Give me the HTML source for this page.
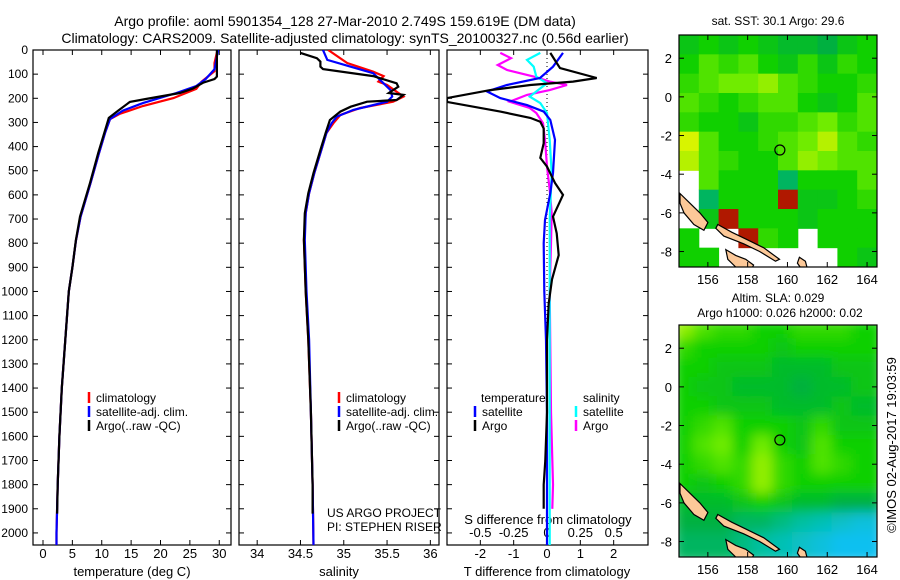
<!DOCTYPE html>
<html><head><meta charset="utf-8"><style>
body{margin:0;background:#fff;}
svg{display:block;font-family:"Liberation Sans",sans-serif;}
</style></head><body>
<svg id="c" width="900" height="580" viewBox="0 0 900 580">
<defs>
<clipPath id="cp1"><rect x="33" y="50" width="198" height="495"/></clipPath>
<clipPath id="cp2"><rect x="239" y="50" width="200" height="495"/></clipPath>
<clipPath id="cp3"><rect x="447" y="50" width="201" height="495"/></clipPath>
<clipPath id="cm1"><rect x="679" y="35" width="198" height="232"/></clipPath>
<clipPath id="cm2"><rect x="679" y="325" width="198" height="232"/></clipPath>
<filter id="blur"><feGaussianBlur stdDeviation="6"/></filter>
</defs>
<text x="345" y="26" font-size="14" text-anchor="middle">Argo profile: aoml 5901354_128 27-Mar-2010 2.749S 159.619E (DM data)</text>
<text x="345" y="43" font-size="14" text-anchor="middle">Climatology: CARS2009. Satellite-adjusted climatology: synTS_20100327.nc (0.56d earlier)</text>
<g id="g"></g>
</svg>
<script>
// ---------- data ----------
const tempArgoDepth=[0,12,60,110,120,135,160,178,203,215,251,281,338,427,551,690,787,900,1000,1200,1400,1600,1800,1920];
const tempArgo=[29.6,29.6,29.6,29.6,29.2,27.3,25.5,23.3,17.5,14.8,12.8,11.2,10.5,9.4,8.0,6.3,5.6,5.0,4.4,3.8,3.2,2.8,2.5,2.4];
const tempClimDepth=[0,54,88,131,161,199,232,265,286,340,430,550,690,790,900,1000,1200,1400,1600,1800,2000,2050];
const tempClim=[29.7,29.2,29.2,27,26.1,22.2,17,13,11.4,10.6,9.5,8.1,6.4,5.6,5.0,4.4,3.8,3.2,2.8,2.5,2.3,2.3];
const tempSatDepth=[0,54,80,120,149,178,220,251,286,340,430,550,690,790,900,1000,1200,1400,1600,1800,2000,2050];
const tempSat=[29.8,29.4,29.2,27.7,26.1,22.7,17,13.6,11.4,10.6,9.5,8.1,6.4,5.6,5.0,4.4,3.8,3.2,2.8,2.5,2.3,2.3];
const salArgoDepth=[12,34,48,69,79,108,138,152,178,186,207,214,235,255,290,344,414,510,593,676,787,1000,1200,1500,1800,1920];
const salArgo=[34.50,34.69,34.73,34.73,34.76,35.34,35.61,35.63,35.52,35.69,35.61,35.27,35.08,34.96,34.84,34.79,34.73,34.65,34.59,34.55,34.54,34.56,34.59,34.62,34.64,34.64];
const salClimDepth=[0,54,90,108,131,145,193,214,240,269,303,344,414,510,593,676,787,1000,1200,1500,1800,2050];
const salClim=[34.82,35.04,35.34,35.46,35.40,35.50,35.69,35.57,35.19,34.96,34.88,34.80,34.74,34.66,34.60,34.56,34.54,34.56,34.59,34.62,34.64,34.65];
const salSatDepth=[0,41,69,96,124,166,193,214,248,276,303,344,414,510,593,676,787,1000,1200,1500,1800,2050];
const salSat=[34.76,34.81,35.08,35.34,35.42,35.54,35.56,35.50,35.11,34.92,34.86,34.80,34.74,34.66,34.60,34.56,34.55,34.57,34.60,34.62,34.64,34.65];
const dTArgoDepth=[12,54,75,116,131,145,166,199,215,255,281,297,325,386,447,483,551,600,690,759,850,950,1050,1200,1500,1700,1800,1900];
const dTArgo=[0.1,0.29,0.39,1.49,0.78,-0.5,-1.7,-3.0,-3.0,-1.4,-0.5,-0.2,-0.1,-0.1,-0.2,0,0.24,0.48,0.18,0.29,0.35,0.15,0.05,0.0,0.0,-0.05,-0.1,-0.1];
const dTSatDepth=[12,69,116,145,172,199,228,255,290,372,510,593,704,800,1000,1200,1500,2050];
const dTSat=[0.48,0.18,-0.21,-1.2,-1.8,-1.4,-0.6,-0.1,0.1,0.24,0.18,0.1,-0.06,-0.1,-0.08,-0.03,0,0];
const dSArgoDepth=[12,34,62,83,110,131,145,166,186,214,240,261,303,372,483,579,676,800,1000,1500,1800,1900];
const dSArgo=[-0.35,-0.27,-0.37,-0.3,-0.1,0.02,0.15,0.02,-0.15,-0.28,-0.13,-0.08,-0.03,-0.015,0,0.02,0.035,0.03,0.02,0.03,0.045,0.04];
const dSSatDepth=[12,41,69,110,138,159,193,220,261,372,510,700,1000,1500,2050];
const dSSat=[-0.05,-0.15,-0.1,-0.08,0,-0.05,-0.13,-0.05,0,0.02,0.035,0.02,0.02,0.02,0.02];
const depthTicks=[0,100,200,300,400,500,600,700,800,900,1000,1100,1200,1300,1400,1500,1600,1700,1800,1900,2000];
const tempTicks=[0,5,10,15,20,25,30];
const salTicks=[34,34.5,35,35.5,36];
const dTTicks=[-2,-1,0,1,2];
const dSTicks=[-0.5,-0.25,0,0.25,0.5];
const dSTickLabels=["-0.5","-0.25","0","0.25","0.5"];
const lonTicks=[156,158,160,162,164];
const latTicks=[2,0,-2,-4,-6,-8];
const sstGrid=[
[.45,.5,.45,.5,.45,.4,.4,.35,.45,.5],
[.5,.6,.55,.6,.5,.45,.55,.45,.55,.5],
[.55,.6,.65,.65,.7,.6,.55,.5,.5,.55],
[.6,.55,.5,.55,.6,.6,.5,.45,.5,.6],
[.55,.5,.5,.45,.55,.55,.6,.65,.55,.6],
[.8,.6,.5,.5,.55,.6,.65,.75,.6,.55],
[.75,.6,.55,.5,.5,.6,.7,.65,.6,.6],
[null,.6,.5,.5,.5,.3,.5,.5,.5,.6],
[null,.3,.5,.5,.5,1.1,.45,.45,.5,.55],
[null,.45,1.1,.5,.5,.5,.45,.5,.5,.5],
[.5,null,null,1.1,.55,.5,null,.5,.5,.5],
[.5,.5,null,null,null,null,null,null,.5,.45]];
const slaGrid=[
[.7,.6,.55,.55,.5,.5,.55,.55,.55,.5],
[.55,.5,.5,.5,.5,.45,.5,.5,.5,.5],
[.5,.5,.45,.45,.45,.4,.4,.4,.45,.45],
[.5,.45,.45,.4,.4,.4,.35,.4,.4,.45],
[.5,.5,.45,.45,.45,.4,.4,.4,.45,.4],
[.5,.55,.6,.5,.5,.5,.45,.55,.45,.45],
[.5,.6,.65,.5,.65,.5,.45,.6,.5,.5],
[.5,.55,.6,.55,.7,.55,.5,.6,.55,.5],
[.5,.45,.5,.55,.7,.55,.5,.5,.5,.5],
[.4,.4,.4,.45,.5,.45,.4,.4,.35,.35],
[.35,.35,.35,.3,.3,.25,.2,.15,.1,.05],
[.3,.3,.3,.25,.2,.15,.1,.05,0,0]];
const argoLon=159.619, argoLat=-2.749;
// ---------- helpers ----------
const NS='http://www.w3.org/2000/svg';
const G=document.getElementById('g');
function mk(tag,attrs,parent){const e=document.createElementNS(NS,tag);for(const k in attrs)e.setAttribute(k,attrs[k]);(parent||G).appendChild(e);return e;}
function lin(d0,d1,r0,r1){return v=>r0+(v-d0)*(r1-r0)/(d1-d0);}
const yD=lin(0,2050,50,545);
const xT=lin(-1.7,32.0,33,231);
const xS=lin(33.79,36.1,239,439);
const xdT=lin(-3,3,447,647);
const xdS=lin(-0.75,0.75,447,647);
function txt(x,y,s,size,anchor,name){const t=mk('text',{x:x,y:y,'font-size':size,'text-anchor':anchor||'start'});t.textContent=s;return t;}
function panel(x0,x1,name){const r=mk('rect',{x:x0,y:50,width:x1-x0,height:495,fill:'none',stroke:'#000','stroke-width':1.2});
 depthTicks.forEach(d=>{mk('line',{x1:x0,x2:x0+5,y1:yD(d),y2:yD(d),stroke:'#000'});mk('line',{x1:x1-5,x2:x1,y1:yD(d),y2:yD(d),stroke:'#000'});});}
function xticks(vals,sc,labels,ly,name){vals.forEach((v,i)=>{const x=sc(v);mk('line',{x1:x,x2:x,y1:50,y2:55,stroke:'#000'});mk('line',{x1:x,x2:x,y1:540,y2:545,stroke:'#000'});txt(x,ly,labels?labels[i]:String(v),13,'middle',name);});}
function series(ds,vs,sc,color,clip,name){const pts=ds.map((d,i)=>sc(vs[i]).toFixed(1)+','+yD(d).toFixed(1)).join(' ');const p=mk('polyline',{points:pts,fill:'none',stroke:color,'stroke-width':2.2,'clip-path':'url(#'+clip+')'});}
function legend(x,y,color,label,name){mk('line',{x1:x,x2:x,y1:y-10,y2:y+1,stroke:color,'stroke-width':2.5});txt(x+7,y,label,12,'start',name);}
// ---------- panel 1 ----------
panel(33,231,'temperature-panel');
depthTicks.forEach(d=>txt(28,yD(d)+4,String(d),12,'end','depth-tick-label'));
xticks(tempTicks,xT,null,558,'temperature-tick-label');
txt(132,576,'temperature (deg C)',13,'middle','temperature-axis-title');
series(tempClimDepth,tempClim,xT,'#ff0000','cp1','temp-climatology-line');
series(tempSatDepth,tempSat,xT,'#0000ff','cp1','temp-satellite-line');
series(tempArgoDepth,tempArgo,xT,'#000000','cp1','temp-argo-line');
legend(89,402,'#ff0000','climatology','legend-climatology');
legend(89,416,'#0000ff','satellite-adj. clim.','legend-satellite');
legend(89,430,'#000000','Argo(..raw -QC)','legend-argo');
// ---------- panel 2 ----------
panel(239,439,'salinity-panel');
xticks(salTicks,xS,null,558,'salinity-tick-label');
txt(339,576,'salinity',13,'middle','salinity-axis-title');
series(salClimDepth,salClim,xS,'#ff0000','cp2','sal-climatology-line');
series(salSatDepth,salSat,xS,'#0000ff','cp2','sal-satellite-line');
series(salArgoDepth,salArgo,xS,'#000000','cp2','sal-argo-line');
legend(339,402,'#ff0000','climatology','legend-climatology-2');
legend(339,416,'#0000ff','satellite-adj. clim.','legend-satellite-2');
legend(339,430,'#000000','Argo(..raw -QC)','legend-argo-2');
txt(327,517,'US ARGO PROJECT',12,'start','project-label');
txt(327,531,'PI: STEPHEN RISER',12,'start','pi-label');
// ---------- panel 3 ----------
panel(447,648,'difference-panel');
mk('line',{x1:xdT(0),x2:xdT(0),y1:50,y2:545,stroke:'#000','stroke-dasharray':'1,3'});
dTTicks.forEach(v=>{const x=xdT(v);mk('line',{x1:x,x2:x,y1:50,y2:55,stroke:'#000'});mk('line',{x1:x,x2:x,y1:540,y2:545,stroke:'#000'});txt(x,558,String(v),13,'middle','t-diff-tick-label');});
dSTicks.forEach((v,i)=>txt(xdS(v),537,dSTickLabels[i],13,'middle','s-diff-tick-label'));
txt(548,524,'S difference from climatology',13,'middle','s-diff-axis-title');
txt(547,576,'T difference from climatology',13,'middle','t-diff-axis-title');
series(dSArgoDepth,dSArgo,xdS,'#ff00ff','cp3','s-diff-argo-line');
series(dSSatDepth,dSSat,xdS,'#00ffff','cp3','s-diff-satellite-line');
series(dTSatDepth,dTSat,xdT,'#0000ff','cp3','t-diff-satellite-line');
series(dTArgoDepth,dTArgo,xdT,'#000000','cp3','t-diff-argo-line');
txt(481,402,'temperature',12,'start','legend-temperature-header');
txt(583,402,'salinity',12,'start','legend-salinity-header');
legend(475,416,'#0000ff','satellite','legend-t-satellite');
legend(475,430,'#000000','Argo','legend-t-argo');
legend(576,416,'#00ffff','satellite','legend-s-satellite');
legend(576,430,'#ff00ff','Argo','legend-s-argo');
// ---------- maps ----------
const cmapStops=[[0,[16,192,240]],[0.2,[0,192,160]],[0.35,[0,176,64]],[0.5,[16,208,0]],[0.65,[112,236,0]],[0.8,[216,244,0]],[1.0,[255,200,0]]];
function cmap(v){if(v>1)return '#b01800';for(let i=1;i<cmapStops.length;i++){if(v<=cmapStops[i][0]){const a=cmapStops[i-1],b=cmapStops[i];const t=(v-a[0])/(b[0]-a[0]);const c=a[1].map((q,j)=>Math.round(q+(b[1][j]-q)*t));return 'rgb('+c.join(',')+')';}}return 'rgb(255,200,0)';}
const land=[
[[154.6,-5.0],[155.0,-5.4],[155.6,-6.0],[156.0,-6.5],[155.8,-6.9],[155.3,-6.6],[154.8,-6.0],[154.6,-5.5]],
[[156.5,-6.6],[157.2,-7.0],[158.0,-7.4],[158.8,-7.8],[159.6,-8.4],[159.4,-8.5],[158.6,-8.0],[157.8,-7.6],[156.8,-7.2],[156.4,-6.8]],
[[156.9,-7.9],[157.4,-8.2],[157.9,-8.4],[158.3,-8.7],[158.2,-8.9],[157.4,-8.8],[157.0,-8.4]],
[[160.6,-8.3],[160.9,-8.5],[161.0,-8.9],[160.7,-8.9],[160.5,-8.6]]];
function map(top,grid,name,smooth,clip){
 const x0=679,x1=877,y0=top,y1=top+232;
 const xL=lin(154.55,164.5,x0,x1), yL=lin(3.2,-8.8,y0,y1);
 const g=mk('g',{'clip-path':'url(#'+clip+')'});
 
 
 mk('rect',{x:x0,y:y0,width:198,height:232,fill:'#fff'},g);
 const inner=mk('g',smooth?{filter:'url(#blur)'}:{},g);
 grid.forEach((row,r)=>row.forEach((v,c)=>{if(v===null)return;const lx=154.55+c*0.995,la=3.2-r;const e=mk('rect',{x:xL(lx)-(smooth?6:0),y:yL(la)-(smooth?6:0),width:xL(lx+0.995)-xL(lx)+(smooth?12:0.5),height:yL(la-1)-yL(la)+(smooth?12:0.5),fill:cmap(v)},inner);}));
 land.forEach(poly=>{const p=mk('polygon',{points:poly.map(q=>xL(q[0]).toFixed(1)+','+yL(q[1]).toFixed(1)).join(' '),fill:'#fcc898',stroke:'#000','stroke-width':1.2},g);});
 const ci=mk('circle',{cx:xL(argoLon),cy:yL(argoLat),r:5,fill:'none',stroke:'#000','stroke-width':1.2});
 
 
 const fr=mk('rect',{x:x0,y:y0,width:198,height:232,fill:'none',stroke:'#000','stroke-width':1.2});
 
 
 lonTicks.forEach(v=>{const x=xL(v);mk('line',{x1:x,x2:x,y1:y0,y2:y0+5,stroke:'#000'});mk('line',{x1:x,x2:x,y1:y1-5,y2:y1,stroke:'#000'});txt(x,y1+17,String(v),13,'middle','longitude-tick-label');});
 latTicks.forEach(v=>{const y=yL(v);mk('line',{x1:x0,x2:x0+5,y1:y,y2:y,stroke:'#000'});mk('line',{x1:x1-5,x2:x1,y1:y,y2:y,stroke:'#000'});txt(x0-7,y+5,String(v),13,'end','latitude-tick-label');});
}
map(35,sstGrid,'sst-map',false,'cm1');
map(325,slaGrid,'sla-map',true,'cm2');
txt(778,25,'sat. SST: 30.1 Argo: 29.6',12,'middle','sst-map-title');
txt(778,302,'Altim. SLA: 0.029',12,'middle','sla-map-title');
txt(780,317,'Argo h1000: 0.026 h2000: 0.02',12,'middle','sla-map-subtitle');
const cr=txt(0,0,'©IMOS 02-Aug-2017 19:03:59',13,'middle','credit-timestamp');
cr.setAttribute('transform','translate(896,445) rotate(-90)');
</script>
</body></html>
